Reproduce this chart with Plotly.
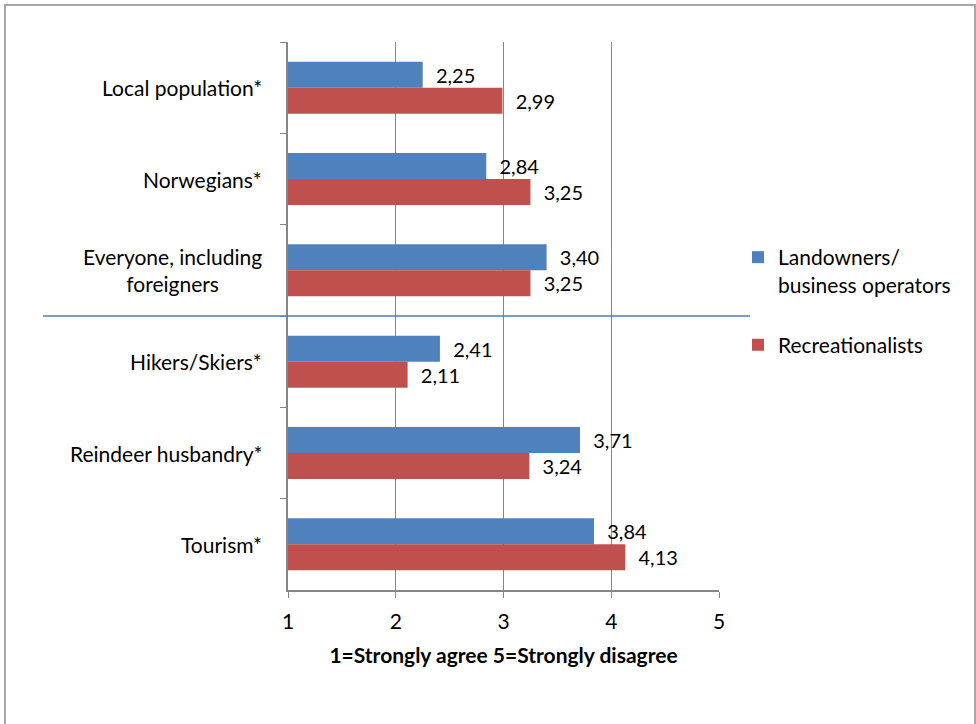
import plotly.graph_objects as go

categories = ["Local population*", "Norwegians*", "Everyone, including<br>foreigners",
              "Hikers/Skiers*", "Reindeer husbandry*", "Tourism*"]
landowners = [2.25, 2.84, 3.40, 2.41, 3.71, 3.84]
recreationalists = [2.99, 3.25, 3.25, 2.11, 3.24, 4.13]
series_names = ["Landowners/<br>business operators", "Recreationalists"]
x_ticks = [1, 2, 3, 4, 5]
x_title = "1=Strongly agree 5=Strongly disagree"

FONT = "Lato"
BLUE = "#4F81BD"
RED = "#C0504D"
GRID = "#868686"

def lab(v):
    return "\u00a0\u00a0" + f"{v:.2f}".replace(".", ",")

fig = go.Figure()
for i, (name, vals, col) in enumerate([(series_names[0], landowners, BLUE),
                                       (series_names[1], recreationalists, RED)]):
    fig.add_trace(go.Bar(
        y=categories, x=vals, orientation="h", name=name, legendgroup=f"g{i}",
        marker=dict(color=col, line=dict(width=0)),
        text=[lab(v) for v in vals], textposition="outside",
        textfont=dict(family=FONT, size=20, color="#000000"),
        cliponaxis=False,
    ))

L, R, T, B = 288, 976 - 719, 42, 724 - 590
PW, PH = 976 - L - R, 724 - T - B

def px(xp):
    return (xp - L) / PW

def py(yp):
    return (724 - B - yp) / PH

annotations = []
for c in categories:
    annotations.append(dict(
        xref="paper", yref="y", x=0, y=c, xanchor="right", yanchor="middle",
        xshift=-24, text=c, showarrow=False, align="center",
        font=dict(family=FONT, size=21, color="#000000"),
    ))

shapes = [
    dict(type="rect", xref="paper", yref="paper",
         x0=px(5), x1=px(975), y0=py(735), y1=py(5),
         line=dict(color="#A6A6A6", width=2), fillcolor="rgba(0,0,0,0)", layer="below"),
    dict(type="line", xref="paper", yref="y",
         x0=px(43), x1=px(750), y0=2.5, y1=2.5,
         line=dict(color="#4A7EBB", width=1.5)),
]

fig.update_layout(
    width=976, height=724,
    margin=dict(l=L, r=R, t=T, b=B),
    paper_bgcolor="white", plot_bgcolor="white",
    barmode="group", bargap=0.43, bargroupgap=0,
    font=dict(family=FONT, size=21, color="#000000"),
    showlegend=True,
    legend=dict(x=px(738), y=py(237), xanchor="left", yanchor="top",
                font=dict(family=FONT, size=21, color="#000000"),
                valign="top", traceorder="grouped", tracegroupgap=30, itemwidth=30,
                bgcolor="rgba(0,0,0,0)"),
    annotations=annotations,
    shapes=shapes,
    xaxis=dict(range=[1, 5], tickvals=x_ticks, ticktext=[str(t) for t in x_ticks],
               showgrid=True, gridcolor=GRID, gridwidth=1,
               showline=True, linecolor=GRID, linewidth=1.5,
               ticks="outside", ticklen=6, tickcolor=GRID,
               ticklabelstandoff=6,
               zeroline=False,
               tickfont=dict(family=FONT, size=21, color="#000000"),
               title=dict(text="<b>" + x_title + "</b>", standoff=16,
                          font=dict(family=FONT, size=21, color="#000000"))),
    yaxis=dict(type="category", categoryorder="array", categoryarray=categories,
               range=[5.5, -0.5], showticklabels=False,
               showline=True, linecolor=GRID, linewidth=1.5,
               ticks="outside", tickson="boundaries", ticklen=6, tickcolor=GRID,
               showgrid=False, zeroline=False),
)

fig.write_html("out.html", config={"displayModeBar": False},
               post_script="document.body.style.margin='0';")
